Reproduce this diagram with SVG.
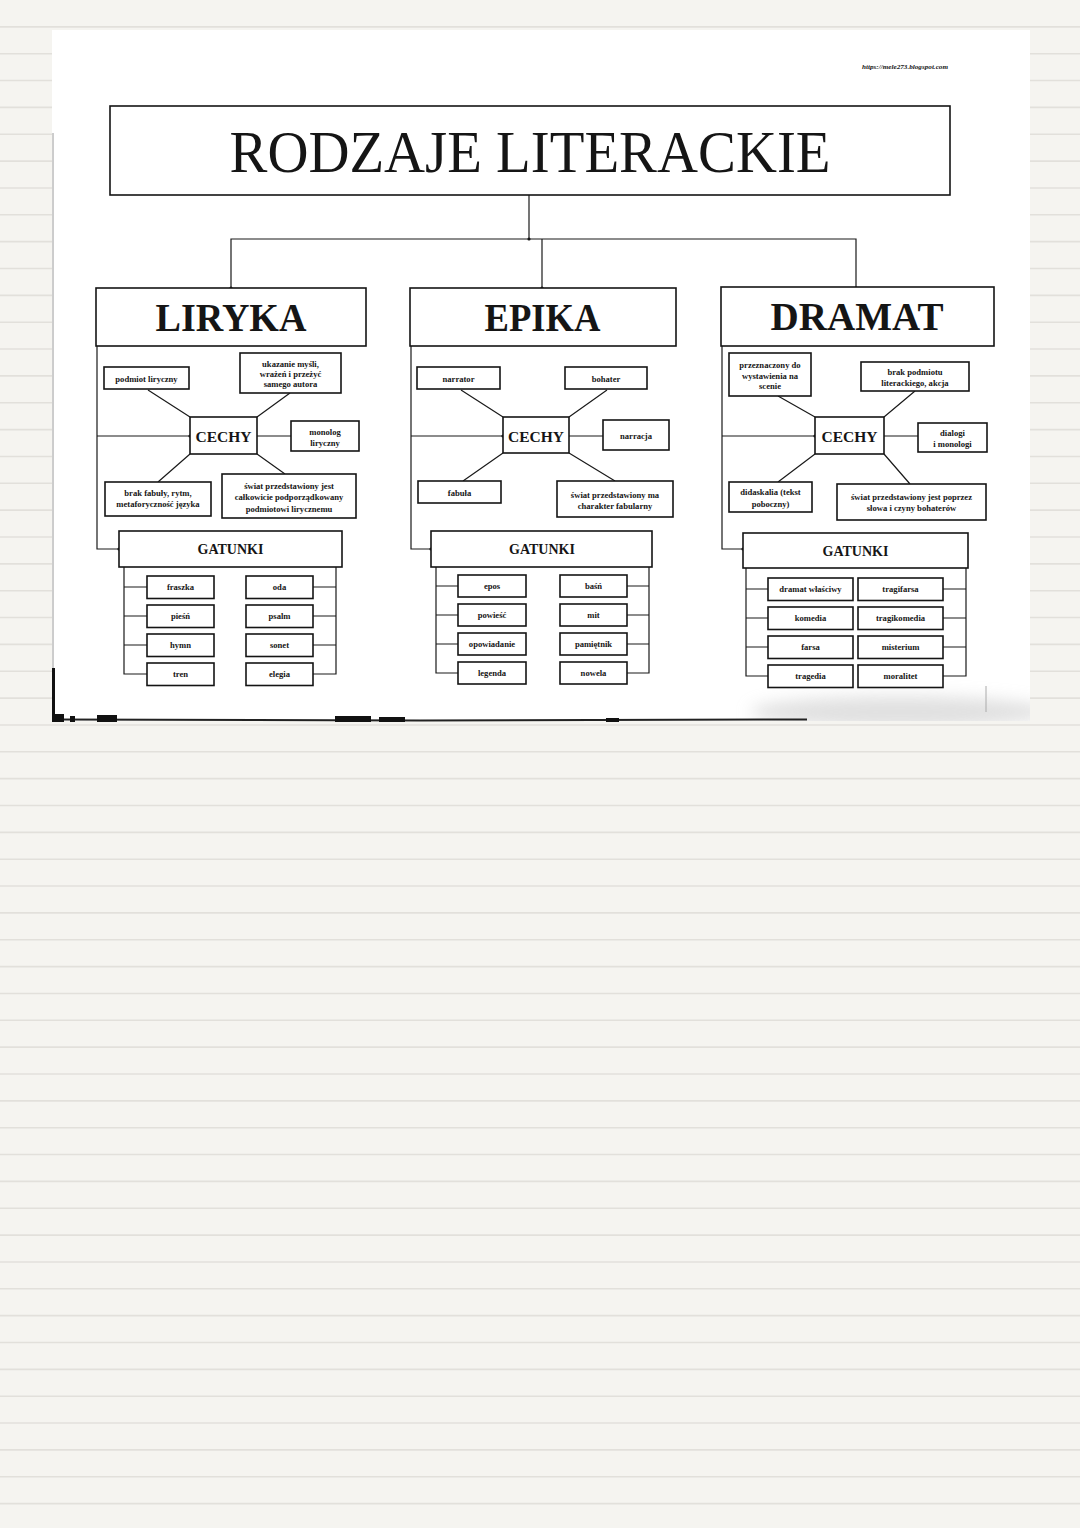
<svg xmlns="http://www.w3.org/2000/svg" width="1080" height="1528" viewBox="0 0 1080 1528">
<defs>
<style>
.bg{fill:#f5f4f0}
.rule{stroke:#e2e0db;stroke-width:1.6;fill:none}
.box{fill:#ffffff;stroke:#141414;stroke-width:1.6}
.conn{stroke:#1a1a1a;stroke-width:1.2;fill:none}
text{font-family:"Liberation Serif","DejaVu Serif",serif;fill:#151515;text-anchor:middle}
.h1{font-size:60px}
.h2{font-size:39px;font-weight:bold}
.c{font-size:15.5px;font-weight:bold}
.g{font-size:14px;font-weight:bold}
.s{font-size:8.6px;font-weight:bold}
.url{font-size:6px;font-style:italic;font-weight:bold;text-anchor:start}
</style>
<marker id="dot" viewBox="0 0 4 4" refX="2" refY="2" markerWidth="4" markerHeight="4" markerUnits="userSpaceOnUse">
<circle cx="2" cy="2" r="1.6" fill="#111"/>
</marker>
<filter id="soft" x="-20%" y="-100%" width="140%" height="300%">
<feGaussianBlur stdDeviation="8"/>
</filter>
<clipPath id="paperclip">
<rect x="52" y="30" width="978" height="691"/>
</clipPath>
</defs>

<g id="background">
<rect class="bg" x="0" y="0" width="1080" height="1528"/>
<path class="rule" d="M0 26.85H1080M0 53.7H1080M0 80.55H1080M0 107.4H1080M0 134.25H1080M0 161.1H1080M0 187.95H1080M0 214.8H1080M0 241.65H1080M0 268.5H1080M0 295.35H1080M0 322.2H1080M0 349.05H1080M0 375.9H1080M0 402.75H1080M0 429.6H1080M0 456.45H1080M0 483.3H1080M0 510.15H1080M0 537H1080M0 563.85H1080M0 590.7H1080M0 617.55H1080M0 644.4H1080M0 671.25H1080M0 698.1H1080M0 724.95H1080M0 751.8H1080M0 778.65H1080M0 805.5H1080M0 832.35H1080M0 859.2H1080M0 886.05H1080M0 912.9H1080M0 939.75H1080M0 966.6H1080M0 993.45H1080M0 1020.3H1080M0 1047.15H1080M0 1074H1080M0 1100.85H1080M0 1127.7H1080M0 1154.55H1080M0 1181.4H1080M0 1208.25H1080M0 1235.1H1080M0 1261.95H1080M0 1288.8H1080M0 1315.65H1080M0 1342.5H1080M0 1369.35H1080M0 1396.2H1080M0 1423.05H1080M0 1449.9H1080M0 1476.75H1080M0 1503.6H1080"/>
</g>

<g id="paper">
<rect x="52" y="30" width="978" height="691" fill="#ffffff"/>
<g clip-path="url(#paperclip)">
<ellipse cx="900" cy="712" rx="150" ry="16" fill="#c8c8c8" opacity="0.55" filter="url(#soft)"/>
</g>
<line x1="53" y1="133" x2="53" y2="668" stroke="#9a9a9a" stroke-width="1"/>
<line x1="53.5" y1="668" x2="53.5" y2="722" stroke="#111" stroke-width="3"/>
<path d="M55 719.5 L420 720.5 L807 719.5" stroke="#222" stroke-width="2" fill="none"/>
<rect x="55" y="714" width="9" height="8" fill="#111"/>
<rect x="70" y="716" width="5" height="6" fill="#111"/>
<rect x="97" y="715" width="20" height="7" fill="#111"/>
<rect x="335" y="716" width="36" height="6" fill="#111"/>
<rect x="379" y="717" width="26" height="5" fill="#111"/>
<rect x="606" y="718" width="13" height="4" fill="#111"/>
<line x1="986" y1="686" x2="986" y2="712" stroke="#aaa" stroke-width="1"/>
<text class="url" x="862" y="69" textLength="86" lengthAdjust="spacingAndGlyphs">https://mele273.blogspot.com</text>
</g>

<g id="connectors">
<path class="conn" d="M529 195V239" marker-end="url(#dot)"/>
<path class="conn" d="M231 288V239H856V288" marker-start="url(#dot)" marker-end="url(#dot)"/>
<path class="conn" d="M542 239V288" marker-end="url(#dot)"/>

<path class="conn" d="M97 346V549H119" marker-end="url(#dot)"/>
<path class="conn" d="M97 436H190" marker-end="url(#dot)"/>
<path class="conn" d="M190 417L148 390M257 417L290 393M257 436H291M190 454L158 482M257 454L285 474"/>
<path class="conn" d="M124 567V674H147M124 587H147M124 616H147M124 645H147M336 567V674H313M336 587H313M336 616H313M336 645H313"/>

<path class="conn" d="M411 346V549H431" marker-end="url(#dot)"/>
<path class="conn" d="M411 436H503" marker-end="url(#dot)"/>
<path class="conn" d="M503 417L461 390M569 417L607 390M569 436H603M503 453L463 481M569 453L615 481"/>
<path class="conn" d="M436 567V673H458M436 586H458M436 615H458M436 644H458M649 567V673H627M649 586H627M649 615H627M649 644H627"/>

<path class="conn" d="M722 346V549H743" marker-end="url(#dot)"/>
<path class="conn" d="M722 436H815" marker-end="url(#dot)"/>
<path class="conn" d="M815 417L778 396M884 417L915 391M884 436H918M815 454L778 482M884 454L910 484"/>
<path class="conn" d="M746 568V676H768M746 589H768M746 618H768M746 647H768M966 568V676H943M966 589H943M966 618H943M966 647H943"/>
</g>

<g id="title">
<rect class="box" x="110" y="106" width="840" height="89"/>
<text class="h1" x="530" y="172" textLength="601" lengthAdjust="spacingAndGlyphs">RODZAJE LITERACKIE</text>
</g>

<g id="liryka">
<rect class="box" x="96" y="288" width="270" height="58"/>
<text class="h2" x="231" y="331" textLength="151" lengthAdjust="spacingAndGlyphs">LIRYKA</text>
</g>
<g id="liryka-cechy">
<rect class="box" x="190" y="417" width="67" height="37"/>
<text class="c" x="223.5" y="442">CECHY</text>
</g>
<g id="liryka-podmiot">
<rect class="box" x="104" y="367" width="85" height="22"/>
<text class="s" x="146.5" y="381.5">podmiot liryczny</text>
</g>
<g id="liryka-ukazanie">
<rect class="box" x="240" y="353" width="101" height="40"/>
<text class="s" x="290.5" y="366.5">ukazanie myśli,</text>
<text class="s" x="290.5" y="376.5">wrażeń i przeżyć</text>
<text class="s" x="290.5" y="386.5">samego autora</text>
</g>
<g id="liryka-monolog">
<rect class="box" x="291" y="421" width="68" height="30"/>
<text class="s" x="325" y="434.5">monolog</text>
<text class="s" x="325" y="446">liryczny</text>
</g>
<g id="liryka-brak">
<rect class="box" x="105" y="482" width="106" height="34"/>
<text class="s" x="158" y="496">brak fabuły, rytm,</text>
<text class="s" x="158" y="507">metaforyczność języka</text>
</g>
<g id="liryka-swiat">
<rect class="box" x="222" y="474" width="134" height="44"/>
<text class="s" x="289" y="489">świat przedstawiony jest</text>
<text class="s" x="289" y="500">całkowicie podporządkowany</text>
<text class="s" x="289" y="511.5">podmiotowi lirycznemu</text>
</g>
<g id="liryka-gatunki">
<rect class="box" x="119" y="531" width="223" height="36"/>
<text class="g" x="230.5" y="554">GATUNKI</text>
</g>
<g id="liryka-fraszka"><rect class="box" x="147" y="576" width="67" height="22.5"/><text class="s" x="180.5" y="590">fraszka</text></g>
<g id="liryka-piesn"><rect class="box" x="147" y="605" width="67" height="22.5"/><text class="s" x="180.5" y="619">pieśń</text></g>
<g id="liryka-hymn"><rect class="box" x="147" y="634" width="67" height="22.5"/><text class="s" x="180.5" y="648">hymn</text></g>
<g id="liryka-tren"><rect class="box" x="147" y="663" width="67" height="22.5"/><text class="s" x="180.5" y="677">tren</text></g>
<g id="liryka-oda"><rect class="box" x="246" y="576" width="67" height="22.5"/><text class="s" x="279.5" y="590">oda</text></g>
<g id="liryka-psalm"><rect class="box" x="246" y="605" width="67" height="22.5"/><text class="s" x="279.5" y="619">psalm</text></g>
<g id="liryka-sonet"><rect class="box" x="246" y="634" width="67" height="22.5"/><text class="s" x="279.5" y="648">sonet</text></g>
<g id="liryka-elegia"><rect class="box" x="246" y="663" width="67" height="22.5"/><text class="s" x="279.5" y="677">elegia</text></g>

<g id="epika">
<rect class="box" x="410" y="288" width="266" height="58"/>
<text class="h2" x="542.5" y="331" textLength="116" lengthAdjust="spacingAndGlyphs">EPIKA</text>
</g>
<g id="epika-cechy">
<rect class="box" x="503" y="417" width="66" height="36"/>
<text class="c" x="536" y="441.5">CECHY</text>
</g>
<g id="epika-narrator">
<rect class="box" x="417" y="367" width="83" height="22"/>
<text class="s" x="458.5" y="381.5">narrator</text>
</g>
<g id="epika-bohater">
<rect class="box" x="565" y="367" width="82" height="22"/>
<text class="s" x="606" y="381.5">bohater</text>
</g>
<g id="epika-narracja">
<rect class="box" x="603" y="420" width="66" height="30"/>
<text class="s" x="636" y="438.5">narracja</text>
</g>
<g id="epika-fabula">
<rect class="box" x="418" y="481" width="83" height="22"/>
<text class="s" x="459.5" y="495.5">fabuła</text>
</g>
<g id="epika-swiat">
<rect class="box" x="557" y="481" width="116" height="36"/>
<text class="s" x="615" y="498">świat przedstawiony ma</text>
<text class="s" x="615" y="509">charakter fabularny</text>
</g>
<g id="epika-gatunki">
<rect class="box" x="431" y="531" width="221" height="36"/>
<text class="g" x="542" y="553.5">GATUNKI</text>
</g>
<g id="epika-epos"><rect class="box" x="458" y="575" width="68" height="22"/><text class="s" x="492" y="589">epos</text></g>
<g id="epika-powiesc"><rect class="box" x="458" y="604" width="68" height="22"/><text class="s" x="492" y="618">powieść</text></g>
<g id="epika-opowiadanie"><rect class="box" x="458" y="633" width="68" height="22"/><text class="s" x="492" y="647">opowiadanie</text></g>
<g id="epika-legenda"><rect class="box" x="458" y="662" width="68" height="22"/><text class="s" x="492" y="676">legenda</text></g>
<g id="epika-basn"><rect class="box" x="560" y="575" width="67" height="22"/><text class="s" x="593.5" y="589">baśń</text></g>
<g id="epika-mit"><rect class="box" x="560" y="604" width="67" height="22"/><text class="s" x="593.5" y="618">mit</text></g>
<g id="epika-pamietnik"><rect class="box" x="560" y="633" width="67" height="22"/><text class="s" x="593.5" y="647">pamiętnik</text></g>
<g id="epika-nowela"><rect class="box" x="560" y="662" width="67" height="22"/><text class="s" x="593.5" y="676">nowela</text></g>

<g id="dramat">
<rect class="box" x="721" y="287" width="273" height="59"/>
<text class="h2" x="857" y="330" textLength="173" lengthAdjust="spacingAndGlyphs">DRAMAT</text>
</g>
<g id="dramat-cechy">
<rect class="box" x="815" y="417" width="69" height="37"/>
<text class="c" x="849.5" y="442">CECHY</text>
</g>
<g id="dramat-przeznaczony">
<rect class="box" x="729" y="353" width="82" height="43"/>
<text class="s" x="770" y="368">przeznaczony do</text>
<text class="s" x="770" y="378.5">wystawienia na</text>
<text class="s" x="770" y="389">scenie</text>
</g>
<g id="dramat-brak">
<rect class="box" x="861" y="362" width="108" height="29"/>
<text class="s" x="915" y="374.5">brak podmiotu</text>
<text class="s" x="915" y="386">literackiego, akcja</text>
</g>
<g id="dramat-dialogi">
<rect class="box" x="918" y="423" width="69" height="29"/>
<text class="s" x="952.5" y="435.5">dialogi</text>
<text class="s" x="952.5" y="447">i monologi</text>
</g>
<g id="dramat-didaskalia">
<rect class="box" x="729" y="482" width="83" height="30"/>
<text class="s" x="770.5" y="495">didaskalia (tekst</text>
<text class="s" x="770.5" y="507">poboczny)</text>
</g>
<g id="dramat-swiat">
<rect class="box" x="837" y="484" width="149" height="36"/>
<text class="s" x="911.5" y="500">świat przedstawiony jest poprzez</text>
<text class="s" x="911.5" y="511">słowa i czyny bohaterów</text>
</g>
<g id="dramat-gatunki">
<rect class="box" x="743" y="533" width="225" height="35"/>
<text class="g" x="855.5" y="556">GATUNKI</text>
</g>
<g id="dramat-wlasciwy"><rect class="box" x="768" y="578" width="85" height="22.5"/><text class="s" x="810.5" y="592">dramat właściwy</text></g>
<g id="dramat-komedia"><rect class="box" x="768" y="607" width="85" height="22.5"/><text class="s" x="810.5" y="621">komedia</text></g>
<g id="dramat-farsa"><rect class="box" x="768" y="636" width="85" height="22.5"/><text class="s" x="810.5" y="650">farsa</text></g>
<g id="dramat-tragedia"><rect class="box" x="768" y="665" width="85" height="22.5"/><text class="s" x="810.5" y="679">tragedia</text></g>
<g id="dramat-tragifarsa"><rect class="box" x="858" y="578" width="85" height="22.5"/><text class="s" x="900.5" y="592">tragifarsa</text></g>
<g id="dramat-tragikomedia"><rect class="box" x="858" y="607" width="85" height="22.5"/><text class="s" x="900.5" y="621">tragikomedia</text></g>
<g id="dramat-misterium"><rect class="box" x="858" y="636" width="85" height="22.5"/><text class="s" x="900.5" y="650">misterium</text></g>
<g id="dramat-moralitet"><rect class="box" x="858" y="665" width="85" height="22.5"/><text class="s" x="900.5" y="679">moralitet</text></g>
</svg>
